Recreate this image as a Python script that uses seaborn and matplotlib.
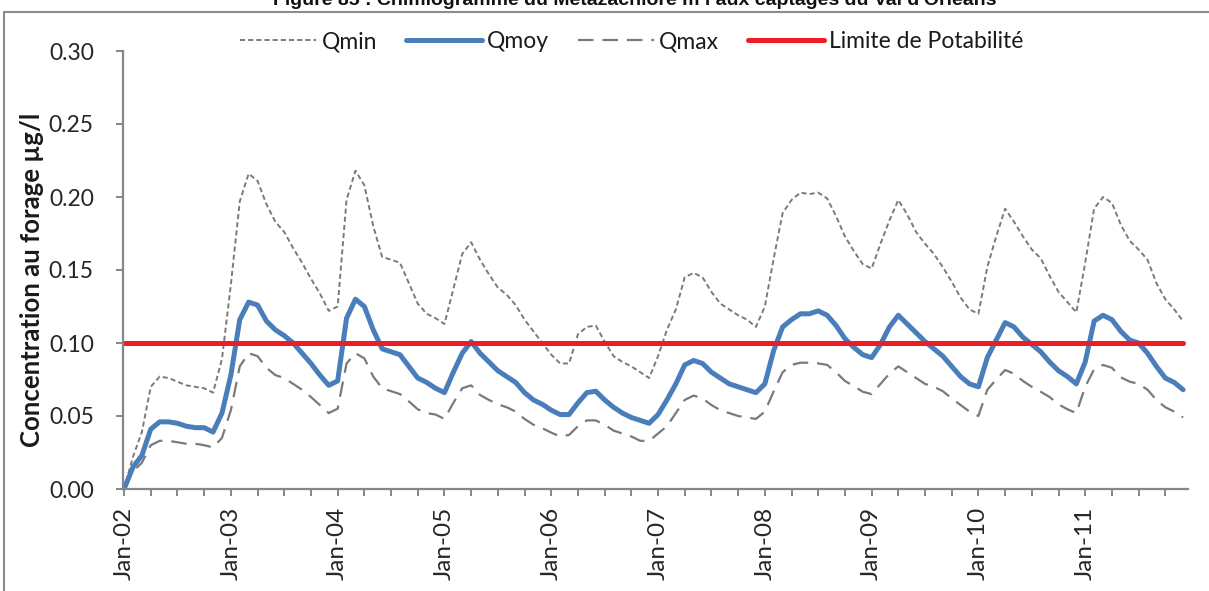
import numpy as np
import pandas as pd
import matplotlib
matplotlib.use("Agg")
import matplotlib.pyplot as plt
from matplotlib.lines import Line2D
from matplotlib.patches import Rectangle
from matplotlib.ticker import FixedLocator, MultipleLocator, FormatStrFormatter
import seaborn as sns

# Monthly concentrations at the wells, Jan 2002 -> Dec 2011 (µg/l)
qmin = [0.000, 0.022, 0.039, 0.070, 0.077, 0.076, 0.0735, 0.071, 0.070, 0.069, 0.066, 0.089,
        0.140, 0.197, 0.216, 0.211, 0.195, 0.183, 0.176, 0.165, 0.155, 0.144, 0.134, 0.122,
        0.125, 0.198, 0.218, 0.208, 0.180, 0.159, 0.157, 0.155, 0.141, 0.127, 0.120, 0.117,
        0.113, 0.137, 0.161, 0.169, 0.157, 0.147, 0.138, 0.133, 0.126, 0.116, 0.108, 0.100,
        0.092, 0.086, 0.086, 0.106, 0.111, 0.112, 0.101, 0.091, 0.087, 0.084, 0.080, 0.076,
        0.091, 0.109, 0.123, 0.145, 0.148, 0.145, 0.135, 0.127, 0.123, 0.119, 0.116, 0.111,
        0.125, 0.158, 0.189, 0.198, 0.203, 0.202, 0.203, 0.199, 0.187, 0.173, 0.163, 0.154,
        0.151, 0.168, 0.184, 0.198, 0.188, 0.176, 0.168, 0.161, 0.152, 0.142, 0.131, 0.123,
        0.120, 0.152, 0.173, 0.192, 0.183, 0.173, 0.164, 0.158, 0.146, 0.135, 0.128, 0.121,
        0.155, 0.192, 0.200, 0.196, 0.181, 0.170, 0.164, 0.157, 0.141, 0.130, 0.123, 0.115]

qmoy = [0.000, 0.015, 0.023, 0.041, 0.046, 0.046, 0.045, 0.043, 0.042, 0.042, 0.039, 0.052,
        0.078, 0.116, 0.128, 0.126, 0.115, 0.109, 0.105, 0.100, 0.093, 0.086, 0.078, 0.071,
        0.074, 0.117, 0.130, 0.125, 0.109, 0.096, 0.094, 0.092, 0.084, 0.076, 0.073, 0.069,
        0.066, 0.080, 0.093, 0.101, 0.093, 0.087, 0.081, 0.077, 0.073, 0.066, 0.061, 0.058,
        0.054, 0.051, 0.051, 0.059, 0.066, 0.067, 0.061, 0.056, 0.052, 0.049, 0.047, 0.045,
        0.051, 0.061, 0.072, 0.085, 0.088, 0.086, 0.080, 0.076, 0.072, 0.070, 0.068, 0.066,
        0.072, 0.095, 0.111, 0.116, 0.120, 0.120, 0.122, 0.119, 0.112, 0.103, 0.097, 0.092,
        0.090, 0.099, 0.111, 0.119, 0.113, 0.107, 0.101, 0.096, 0.091, 0.084, 0.077, 0.072,
        0.070, 0.090, 0.102, 0.114, 0.111, 0.104, 0.099, 0.094, 0.087, 0.081, 0.077, 0.072,
        0.087, 0.115, 0.119, 0.116, 0.108, 0.102, 0.100, 0.093, 0.084, 0.076, 0.073, 0.068]

qmax = [0.000, 0.012, 0.018, 0.030, 0.033, 0.033, 0.032, 0.031, 0.031, 0.030, 0.0285, 0.035,
        0.054, 0.084, 0.093, 0.091, 0.083, 0.078, 0.076, 0.072, 0.068, 0.063, 0.0575, 0.052,
        0.055, 0.086, 0.093, 0.0895, 0.077, 0.069, 0.067, 0.065, 0.060, 0.0546, 0.052, 0.051,
        0.048, 0.059, 0.069, 0.071, 0.0644, 0.061, 0.058, 0.056, 0.053, 0.048, 0.044, 0.0416,
        0.0386, 0.036, 0.037, 0.043, 0.047, 0.047, 0.044, 0.040, 0.038, 0.036, 0.033, 0.033,
        0.038, 0.043, 0.052, 0.061, 0.064, 0.062, 0.0575, 0.054, 0.052, 0.050, 0.049, 0.048,
        0.053, 0.067, 0.080, 0.085, 0.0865, 0.0865, 0.086, 0.085, 0.080, 0.074, 0.0705, 0.0666,
        0.065, 0.072, 0.079, 0.084, 0.080, 0.076, 0.072, 0.070, 0.067, 0.062, 0.0575, 0.053,
        0.050, 0.068, 0.075, 0.0815, 0.079, 0.074, 0.070, 0.0666, 0.063, 0.058, 0.0546, 0.052,
        0.070, 0.082, 0.085, 0.083, 0.0765, 0.0735, 0.072, 0.068, 0.061, 0.056, 0.053, 0.049]

limite_potabilite = 0.10

year_labels = ["Jan-02", "Jan-03", "Jan-04", "Jan-05", "Jan-06",
               "Jan-07", "Jan-08", "Jan-09", "Jan-10", "Jan-11"]

series_names = ["Qmin", "Qmoy", "Qmax", "Limite de Potabilité"]

mois = np.arange(len(qmoy))
df = pd.DataFrame({
    "mois": mois,
    "Qmin": qmin,
    "Qmoy": qmoy,
    "Qmax": qmax,
    "Limite de Potabilité": [limite_potabilite] * len(qmoy),
})

sns.set_theme(style="white")
plt.rcParams["font.family"] = ["Lato", "DejaVu Sans"]

W, H = 1209, 591
fig = plt.figure(figsize=(W / 100, H / 100), dpi=100)
fig.patch.set_facecolor("white")

# plot area in pixel coordinates
left, right, top, bottom = 123, 1188, 51, 489
ax = fig.add_axes([left / W, 1 - bottom / H, (right - left) / W, (bottom - top) / H])
ax.set_facecolor("white")

grey = "#7a7a7a"
blue = "#4a7ebb"
red = "#ee1c25"

styles = {
    "Qmin": dict(color=grey, lw=1.4, ls=(0, (2.6, 1.6))),
    "Qmoy": dict(color=blue, lw=3.6, ls="-", solid_joinstyle="round", solid_capstyle="round"),
    "Qmax": dict(color=grey, lw=1.6, ls=(0, (7, 4))),
    "Limite de Potabilité": dict(color=red, lw=3.6, ls="-", solid_capstyle="round"),
}

for name in ["Qmin", "Qmax", "Qmoy", "Limite de Potabilité"]:
    sns.lineplot(data=df, x="mois", y=name, ax=ax, **styles[name])

ax.set_xlim(-0.12, len(qmoy) - 1 + 0.55)
ax.set_ylim(0, 0.30)

# axes styling
for side in ["top", "right"]:
    ax.spines[side].set_visible(False)
for side in ["left", "bottom"]:
    ax.spines[side].set_color("#868686")
    ax.spines[side].set_linewidth(1.6)

ax.yaxis.set_major_locator(MultipleLocator(0.05))
ax.yaxis.set_major_formatter(FormatStrFormatter("%.2f"))
ax.xaxis.set_major_locator(FixedLocator(np.arange(0, len(qmoy), 12)))
ax.xaxis.set_minor_locator(FixedLocator(np.arange(0, len(qmoy), 3)))
ax.set_xticklabels(year_labels, rotation=90, va="top", ha="center")

ax.tick_params(axis="y", which="major", direction="out", length=5, width=1.4,
               color="#868686", pad=16, labelsize=16.5, labelcolor="#262626", left=True)
ax.tick_params(axis="x", which="both", direction="out", length=5, width=1.4,
               color="#868686", bottom=True)
ax.tick_params(axis="x", which="major", pad=8, labelsize=17.5, labelcolor="#262626")

ax.set_xlabel("")
ax.set_ylabel("")
fig.text(32 / W, 1 - 280 / H, "Concentration au forage µg/l", rotation=90,
         ha="center", va="center", fontsize=18.5, fontweight="bold", color="#1a1a1a")

# legend above the plot area
handles = [Line2D([0], [0], **{k: v for k, v in styles[n].items()}) for n in series_names]
fig.legend(handles, series_names, loc="center", bbox_to_anchor=(632 / W, 1 - 42 / H),
           ncol=4, frameon=False, fontsize=16.5, handlelength=3.3, handletextpad=0.25,
           columnspacing=1.25, labelcolor="#1a1a1a")

# chart frame and caption
fig.patches.append(Rectangle((4 / W, -0.1), 1.2, 1 - 12 / H + 0.1, transform=fig.transFigure,
                             fill=False, edgecolor="#8c8c8c", lw=1.5))
fig.text(635 / W, 1 - 5 / H,
         "Figure 85 : Chimiogramme du Métazachlore m l aux captages du Val d'Orléans",
         ha="center", va="baseline", fontsize=14, fontweight="bold",
         family=["Liberation Sans", "DejaVu Sans"], color="#111111")

fig.savefig("out.png", dpi=100)
